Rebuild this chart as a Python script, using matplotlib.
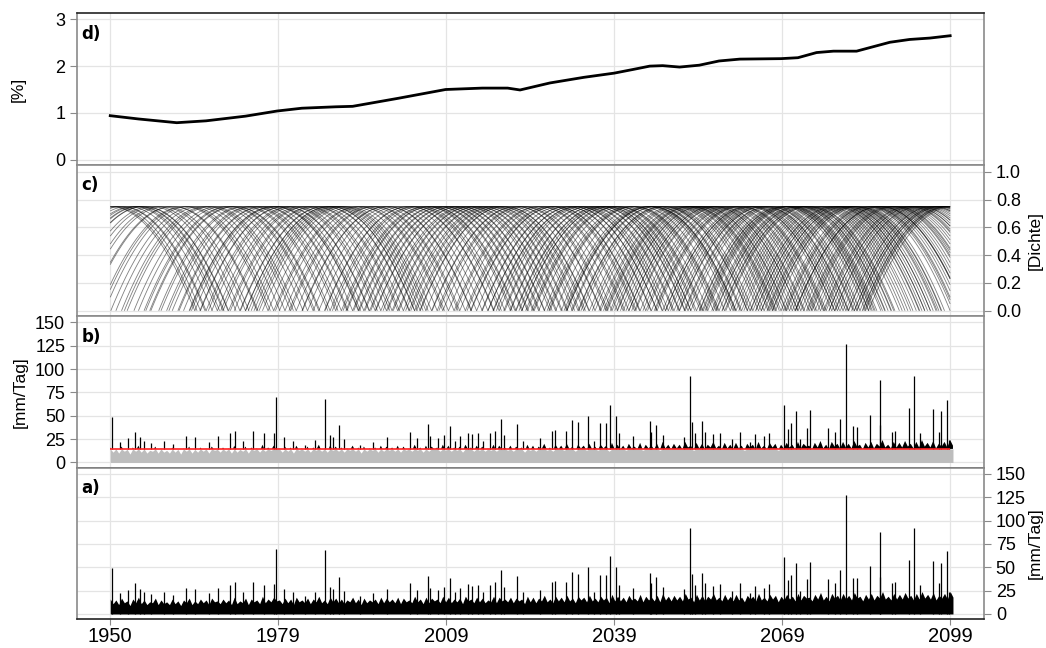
import numpy as np
import matplotlib
matplotlib.use("Agg")
from matplotlib import pyplot as plt
from matplotlib.collections import LineCollection

plt.rcParams['font.family'] = ['Liberation Sans', 'DejaVu Sans']

# ---- data ----
# d) share of days above threshold [%]
d_years = [1950, 1955, 1961.8, 1967, 1974, 1979.6, 1984, 1990, 1993, 2001, 2009.5,
           2016, 2020.5, 2022.7, 2028, 2034, 2039.4, 2042.8, 2045.7, 2048, 2051,
           2054.5, 2058, 2061.7, 2069, 2072, 2075.3, 2078.3, 2082.4, 2088.3,
           2091.8, 2095.4, 2099]
d_pct = [0.94, 0.87, 0.79, 0.83, 0.93, 1.04, 1.10, 1.13, 1.14, 1.31, 1.50,
         1.53, 1.53, 1.49, 1.64, 1.76, 1.85, 1.93, 2.00, 2.01, 1.98,
         2.02, 2.11, 2.15, 2.16, 2.18, 2.29, 2.32, 2.32, 2.51,
         2.57, 2.60, 2.65]

# dense daily background, upper edge every half year from 1950 on [mm/Tag]
bg_top = [
    16, 11, 15, 10, 17, 12, 14, 9, 16, 12, 18, 11, 15, 10, 13, 12, 17, 10, 15, 11,
    13, 10, 16, 11, 14, 9, 15, 12, 17, 10, 14, 11, 16, 12, 15, 10, 17, 13, 14, 11,
    16, 12, 15, 10, 18, 11, 14, 12, 17, 10, 16, 13, 15, 11, 19, 12, 16, 13, 18, 14,
    15, 11, 17, 12, 16, 10, 18, 13, 15, 12, 17, 11, 16, 13, 19, 12, 15, 11, 18, 13,
    17, 12, 16, 11, 15, 13, 18, 12, 16, 10, 17, 12, 15, 13, 16, 11, 18, 12, 17, 13,
    16, 12, 18, 11, 17, 13, 15, 12, 19, 13, 16, 11, 18, 12, 17, 14, 16, 12, 19, 13,
    18, 12, 16, 13, 17, 11, 19, 14, 16, 12, 18, 13, 17, 12, 15, 13, 19, 12, 18, 14,
    16, 13, 18, 12, 17, 14, 16, 11, 19, 13, 18, 12, 17, 14, 20, 13, 16, 12, 19, 14,
    18, 13, 20, 14, 17, 12, 19, 15, 18, 13, 20, 14, 17, 13, 19, 15, 18, 12, 21, 14,
    19, 14, 18, 13, 20, 15, 17, 14, 21, 13, 19, 15, 18, 14, 20, 13, 22, 15, 19, 14,
    20, 15, 19, 14, 22, 16, 18, 13, 21, 15, 20, 14, 19, 16, 22, 15, 18, 14, 21, 15,
    19, 14, 21, 15, 18, 13, 20, 16, 19, 14, 22, 15, 18, 14, 21, 16, 20, 13, 19, 15,
    21, 16, 19, 14, 22, 15, 20, 17, 18, 14, 21, 16, 23, 15, 19, 14, 22, 17, 20, 15,
    22, 16, 20, 15, 23, 17, 19, 14, 21, 16, 22, 15, 20, 17, 24, 16, 19, 15, 22, 16,
    21, 16, 23, 17, 20, 15, 22, 16, 24, 17, 21, 16, 23, 15, 20, 17, 22, 16, 24, 18,
]
bg_start = 1950
bg_step = 0.5

# single wet days that stick out of the background
spike_years = [1950.4, 1951.8, 1953.1, 1954.4, 1955.2, 1955.9, 1957.3, 1959.6, 1961.2,
               1963.4, 1965.1, 1967.5, 1969.2, 1971.3, 1972.2, 1973.6, 1975.4, 1977.2,
               1979.1, 1979.4, 1980.9, 1982.4, 1984.6, 1986.3, 1988.1, 1989.0, 1989.5,
               1990.5, 1991.4, 1994.3, 1996.7, 1999.1, 2003.1, 2004.4, 2006.3, 2006.8,
               2008.2, 2009.2, 2010.2, 2011.2, 2012.1, 2013.4, 2014.2, 2015.2, 2016.2,
               2017.4, 2018.3, 2019.3, 2019.9, 2022.1, 2023.3, 2026.3, 2028.3, 2028.9,
               2030.9, 2032.0, 2032.9, 2034.8, 2035.9, 2036.9, 2038.0, 2038.7, 2039.7,
               2040.2, 2042.8, 2045.8, 2046.0, 2046.8, 2048.1, 2051.7, 2052.8, 2053.2,
               2053.7, 2054.9, 2055.5, 2057.0, 2058.2, 2060.3, 2061.7, 2063.5, 2064.4,
               2065.9, 2066.8, 2069.6, 2070.2, 2070.7, 2071.7, 2072.4, 2073.6, 2074.2,
               2077.4, 2078.6, 2079.5, 2080.5, 2081.7, 2082.4, 2084.8, 2086.5, 2086.6,
               2088.7, 2089.3, 2091.7, 2092.5, 2093.6, 2095.9, 2097.0, 2097.4, 2098.4,
               2098.8]
spike_vals = [49, 22, 26, 33, 27, 23, 21, 23, 20,
              28, 27, 22, 28, 31, 34, 23, 34, 31,
              32, 70, 27, 23, 19, 24, 68, 29, 27,
              40, 25, 19, 22, 27, 33, 26, 41, 28,
              26, 29, 39, 23, 28, 32, 30, 31, 23,
              31, 34, 47, 29, 41, 23, 26, 34, 35,
              34, 45, 43, 50, 23, 42, 42, 62, 50,
              31, 28, 44, 33, 40, 29, 27, 92, 43,
              31, 44, 33, 30, 32, 25, 33, 22, 30,
              28, 32, 61, 36, 42, 55, 25, 37, 56,
              37, 33, 47, 127, 39, 38, 51, 40, 88,
              33, 34, 58, 92, 31, 57, 33, 55, 67,
              24]

threshold = 14.5
kernel_halfwidth = 15.0   # years
x_ticks = [1950, 1979.8, 2009.6, 2039.4, 2069.2, 2099]
x_labels = ['1950', '1979', '2009', '2039', '2069', '2099']

# ---- derived ----
bg_years = bg_start + bg_step * np.arange(len(bg_top))
bg_top = np.array(bg_top, dtype=float)
spike_years = np.array(spike_years)
spike_vals = np.array(spike_vals, dtype=float)

events = np.concatenate([bg_years[bg_top > threshold], spike_years[spike_vals > threshold]])

# ---- figure ----
fig = plt.figure(figsize=(10.46, 6.48), dpi=100)
gs = fig.add_gridspec(4, 1, left=0.0736, right=0.9407, top=0.9795, bottom=0.0443, hspace=0)
ax_d = fig.add_subplot(gs[0])
ax_c = fig.add_subplot(gs[1], sharex=ax_d)
ax_b = fig.add_subplot(gs[2], sharex=ax_d)
ax_a = fig.add_subplot(gs[3], sharex=ax_d)

GRID = '#e4e4e4'
SPINE = '#8a8a8a'

for ax in (ax_d, ax_c, ax_b, ax_a):
    ax.set_axisbelow(True)
    ax.grid(True, color=GRID, lw=0.9)
    for s in ax.spines.values():
        s.set_color(SPINE)
        s.set_linewidth(1.2)
    ax.tick_params(axis='both', colors=SPINE, labelcolor='black', labelsize=13, length=5)
    ax.tick_params(axis='x', length=0, labelbottom=False)
ax_d.spines['top'].set_color('#222222')
ax_b.spines['bottom'].set_color('#333333')
ax_a.spines['bottom'].set_color('#222222')

ax_d.set_xlim(1944.1, 2105.0)
ax_d.set_xticks(x_ticks)

# d)
ax_d.plot(d_years, d_pct, color='black', lw=2)
ax_d.set_ylim(-0.11, 3.13)
ax_d.set_yticks([0, 1, 2, 3])
ax_d.set_ylabel('[%]', fontsize=12.5)
ax_d.yaxis.set_label_coords(-0.057, 0.5)

# c) Epanechnikov kernels around each exceedance
segs = []
for te in events:
    t = np.linspace(max(1950, te - kernel_halfwidth), min(2099, te + kernel_halfwidth), 80)
    u = (t - te) / kernel_halfwidth
    segs.append(np.column_stack([t, 0.75 * (1 - u ** 2)]))
ax_c.add_collection(LineCollection(segs, colors='black', linewidths=0.6, alpha=0.5))
ax_c.set_ylim(-0.04, 1.05)
ax_c.yaxis.tick_right()
ax_c.yaxis.set_label_position('right')
ax_c.set_yticks([0, 0.2, 0.4, 0.6, 0.8, 1.0])
ax_c.set_yticklabels(['0.0', '0.2', '0.4', '0.6', '0.8', '1.0'])
ax_c.set_ylabel('[Dichte]', fontsize=12.5, rotation=90)
ax_c.yaxis.set_label_coords(1.0485, 0.5)

# b) threshold split
ax_b.fill_between(bg_years, 0, np.minimum(bg_top, threshold), color='#bdbdbd', lw=0)
ax_b.fill_between(bg_years, threshold, bg_top, where=bg_top > threshold,
                  interpolate=True, color='black', lw=0)
ax_b.vlines(spike_years, threshold, spike_vals, color='black', lw=0.9)
ax_b.hlines(threshold, 1950, 2099, color='#ff2020', lw=1.2)
ax_b.set_ylim(-5.7, 156.4)
ax_b.set_yticks([0, 25, 50, 75, 100, 125, 150])
ax_b.set_ylabel('[mm/Tag]', fontsize=12.5)
ax_b.yaxis.set_label_coords(-0.054, 0.5)

# a) raw series
ax_a.fill_between(bg_years, 0, bg_top, color='black', lw=0)
ax_a.vlines(spike_years, 0, spike_vals, color='black', lw=0.9)
ax_a.set_ylim(-5.7, 156.4)
ax_a.set_yticks([0, 25, 50, 75, 100, 125, 150])
ax_a.yaxis.tick_right()
ax_a.yaxis.set_label_position('right')
ax_a.set_ylabel('[mm/Tag]', fontsize=12.5, rotation=90)
ax_a.yaxis.set_label_coords(1.0485, 0.5)
ax_a.tick_params(axis='x', length=4, pad=1.5, labelbottom=True, labelsize=14.5)
ax_a.set_xticklabels(x_labels)

for ax, lab in ((ax_d, 'd)'), (ax_c, 'c)'), (ax_b, 'b)'), (ax_a, 'a)')):
    ax.text(0.005, 0.925, lab, transform=ax.transAxes, fontsize=12, fontweight='bold',
            family='DejaVu Sans', va='top', ha='left')

fig.savefig('out.png', dpi=100)
